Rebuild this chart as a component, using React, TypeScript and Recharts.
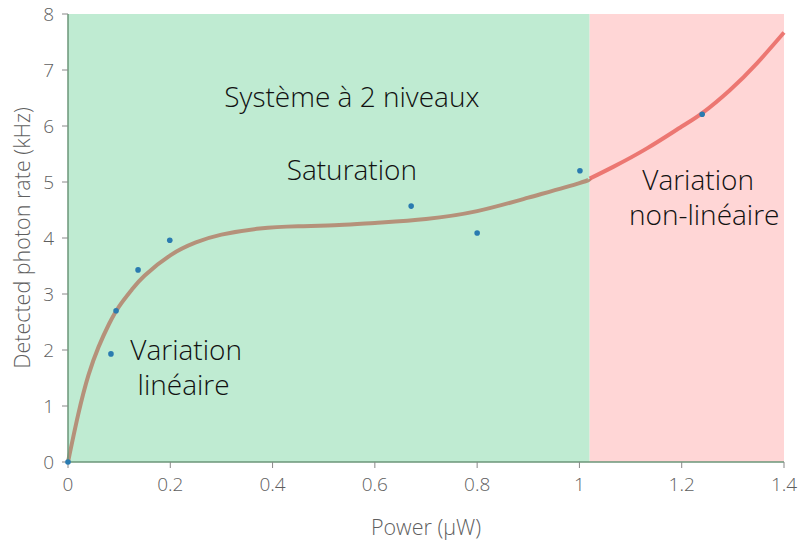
import React from 'react';
import { ComposedChart, Line, Scatter, XAxis, YAxis, ReferenceArea, ReferenceDot } from 'recharts';

// measured points (Power µW, rate kHz)
const pointPower = [0, 0.084, 0.094, 0.137, 0.199, 0.671, 0.8, 1.001, 1.24];
const pointRate = [0, 1.93, 2.7, 3.43, 3.96, 4.57, 4.09, 5.2, 6.21];

// fitted curve
const curvePower = [0, 0.02, 0.04, 0.06, 0.08, 0.1, 0.125, 0.15, 0.2, 0.25, 0.3, 0.375, 0.45, 0.53, 0.6, 0.7, 0.8, 0.9, 1.0, 1.02, 1.066, 1.132, 1.2, 1.24, 1.294, 1.347, 1.4];
const curveRate = [0, 0.85, 1.55, 2.06, 2.46, 2.78, 3.08, 3.33, 3.69, 3.92, 4.06, 4.17, 4.21, 4.23, 4.27, 4.34, 4.48, 4.72, 4.98, 5.06, 5.27, 5.6, 5.99, 6.23, 6.64, 7.12, 7.67];

const regimeLimit = 1.02;
const xTicks = [0, 0.2, 0.4, 0.6, 0.8, 1, 1.2, 1.4];
const yTicks = [0, 1, 2, 3, 4, 5, 6, 7, 8];

const annotations = [
  { x: 0.555, y: 6.52, text: 'Système à 2 niveaux' },
  { x: 0.555, y: 5.21, text: 'Saturation' },
  { x: 0.231, y: 2.0, text: 'Variation' },
  { x: 0.226, y: 1.38, text: 'linéaire' },
  { x: 1.232, y: 5.04, text: 'Variation' },
  { x: 1.244, y: 4.41, text: 'non-linéaire' },
];

const points = pointPower.map((p, i) => ({ power: p, rate: pointRate[i] }));
const curve = curvePower.map((p, i) => ({ power: p, rate: curveRate[i] }));
const curveLow = curve.filter(d => d.power <= regimeLimit);
const curveHigh = curve.filter(d => d.power >= regimeLimit);

const tickStyle = { fill: '#5f5f5f', fontSize: 19 };

const App: React.FC = () => {
  return (
    <div style={{ position: 'absolute', left: 0, top: 0, background: '#fff' }}>
      <ComposedChart
        width={798}
        height={541}
        margin={{ top: 14, right: 14, left: 0, bottom: 0 }}
        style={{ fontFamily: '"Open Sans", sans-serif', fontWeight: 300 }}
      >
        <XAxis
          type="number"
          dataKey="power"
          domain={[0, 1.4]}
          ticks={xTicks}
          height={79}
          tick={tickStyle}
          tickSize={6}
          tickMargin={10}
          axisLine={{ stroke: '#6b9678', strokeWidth: 1.5 }}
          tickLine={{ stroke: '#888' }}
          label={{ value: 'Power (µW)', position: 'insideBottom', offset: 6, fill: '#5f5f5f', fontSize: 21.5 }}
        />
        <YAxis
          type="number"
          dataKey="rate"
          domain={[0, 8]}
          ticks={yTicks}
          width={68}
          tick={tickStyle}
          tickSize={6}
          tickMargin={8}
          axisLine={{ stroke: '#6b9678', strokeWidth: 1.5 }}
          tickLine={{ stroke: '#888' }}
          label={{ value: 'Detected photon rate (kHz)', angle: -90, position: 'insideLeft', offset: 22, fill: '#5f5f5f', fontSize: 21.5, style: { textAnchor: 'middle' } }}
        />

        {/* regime backgrounds */}
        <ReferenceArea x1={0} x2={regimeLimit} y1={0} y2={8} fill="#bfebd2" fillOpacity={1} stroke="none" />
        <ReferenceArea x1={regimeLimit} x2={1.4} y1={0} y2={8} fill="#ffd6d6" fillOpacity={1} stroke="none" />

        <Scatter data={points} dataKey="rate" fill="#2a7bb0" shape={(props: any) => <circle cx={props.cx} cy={props.cy} r={2.8} fill="#2a7bb0" />} isAnimationActive={false} />

        <Line data={curveLow} dataKey="rate" type="natural" stroke="#b5917a" strokeWidth={4} dot={false} activeDot={false} isAnimationActive={false} />
        <Line data={curveHigh} dataKey="rate" type="natural" stroke="#e96a64" strokeOpacity={0.88} strokeWidth={4} dot={false} activeDot={false} isAnimationActive={false} />

        {annotations.map((a, i) => (
          <ReferenceDot
            key={i}
            x={a.x}
            y={a.y}
            r={0}
            fill="none"
            stroke="none"
            label={{ value: a.text, position: 'center', fill: '#111', fontSize: 28 }}
          />
        ))}
      </ComposedChart>
    </div>
  );
};

export default App;
